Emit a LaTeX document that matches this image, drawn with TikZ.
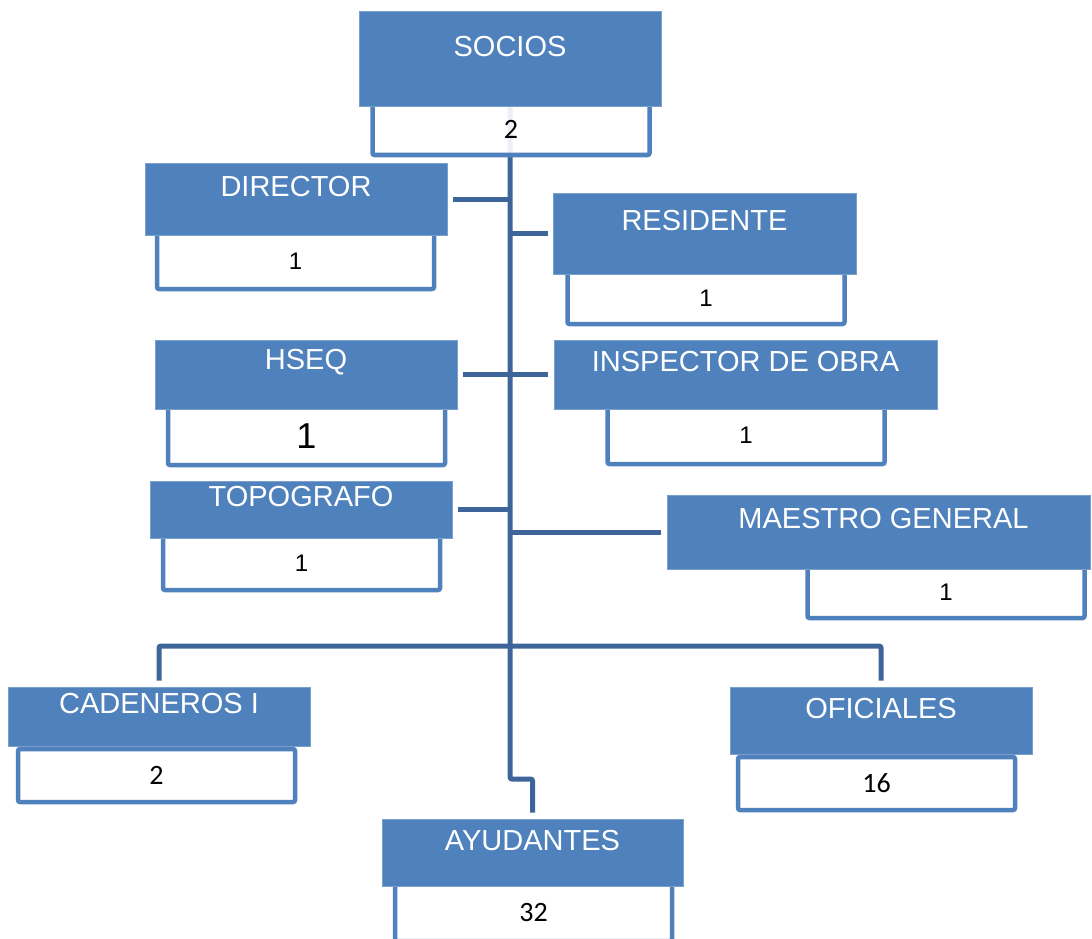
\documentclass[tikz,border=0pt]{standalone}
\usepackage{fontspec}
\setmainfont{Liberation Sans}
\newfontfamily\calib{Carlito}
\usetikzlibrary{backgrounds}
\definecolor{boxblue}{HTML}{4F81BD}
\definecolor{lineblue}{HTML}{3E6599}
\tikzset{
  headbox/.style={fill=boxblue,draw=boxblue!75!white,line width=0.8pt,inner sep=0pt},
  headtext/.style={text=white,font=\fontsize{29}{34}\selectfont,inner sep=0pt},
  numbox/.style={draw=boxblue,line width=4.5pt,fill=white,fill opacity=0.9,text opacity=1,
    rounded corners=2pt,minimum width=277pt,inner sep=0pt,font=\fontsize{24}{28}\selectfont},
  numcal/.style={font=\calib\fontsize{28}{32}\selectfont},
  conn/.style={draw=lineblue,line width=5pt},
}
\begin{document}
\begin{tikzpicture}[x=1pt,y=-1pt]
\useasboundingbox (0,0) rectangle (1092,939);
%white boxes with the number of persons
\node[numbox,numcal,minimum height=51pt] (socios-n) at (511,129.5) {2};
\node[numbox,minimum height=56pt] (director-n) at (295.5,261) {1};
\node[numbox,minimum height=52pt] (residente-n) at (706,298) {1};
\node[numbox,minimum height=58pt,font=\fontsize{36}{40}\selectfont] (hseq-n) at (306.5,436) {1};
\node[numbox,minimum height=57pt] (inspector-n) at (746,435.5) {1};
\node[numbox,minimum height=54pt] (topografo-n) at (301.5,563) {1};
\node[numbox,minimum height=51pt] (maestro-n) at (946,592.5) {1};
\node[numbox,numcal,minimum height=53pt] (cadeneros-n) at (156.5,775.5) {2};
\node[numbox,numcal,minimum height=53pt] (oficiales-n) at (876.5,783.5) {16};
\node[numbox,numcal,minimum height=57pt] (ayudantes-n) at (533.5,912.5) {32};
%blue boxes
\node[headbox,minimum width=302pt,minimum height=95pt] (socios) at (510,58.5) {};
\node[headbox,minimum width=302pt,minimum height=72pt] (director) at (296,199) {};
\node[headbox,minimum width=303pt,minimum height=81pt] (residente) at (704.5,233.5) {};
\node[headbox,minimum width=302pt,minimum height=69pt] (hseq) at (306,374.5) {};
\node[headbox,minimum width=383pt,minimum height=69pt] (inspector) at (745.5,374.5) {};
\node[headbox,minimum width=302pt,minimum height=57pt] (topografo) at (301,509.5) {};
\node[headbox,minimum width=423pt,minimum height=74pt] (maestro) at (878.5,532) {};
\node[headbox,minimum width=302pt,minimum height=59pt] (cadeneros) at (159,716.5) {};
\node[headbox,minimum width=302pt,minimum height=67pt] (oficiales) at (881,720.5) {};
\node[headbox,minimum width=301pt,minimum height=67pt] (ayudantes) at (532.5,852.5) {};
%titles
\node[headtext] (socios-t) at (510,47) {SOCIOS};
\node[headtext] (director-t) at (296,187) {DIRECTOR};
\node[headtext] (residente-t) at (704.5,221) {RESIDENTE};
\node[headtext] (hseq-t) at (306,362) {HSEQ};
\node[headtext] (inspector-t) at (745.5,362) {INSPECTOR DE OBRA};
\node[headtext] (topografo-t) at (301,497) {TOPOGRAFO};
\node[headtext] (maestro-t) at (883.5,519) {MAESTRO GENERAL};
\node[headtext] (cadeneros-t) at (159,704) {CADENEROS I};
\node[headtext] (oficiales-t) at (881,709) {OFICIALES};
\node[headtext] (ayudantes-t) at (532.5,841) {AYUDANTES};
%connectors
\coordinate (bend) at (510,779);
\coordinate (bar) at (510,646);
\begin{pgfonlayer}{background}
\draw[conn,rounded corners=2pt,shorten >=6pt] (socios.south) -- (bend) -| (ayudantes.north);
\draw[conn,shorten <=6pt] (director.east) -- (director.east -| bend);
\draw[conn,shorten <=5pt] (residente.west) -- (residente.west -| bend);
\draw[conn,shorten <=6pt] (hseq.east) -- (hseq.east -| bend);
\draw[conn,shorten <=6pt] (inspector.west) -- (inspector.west -| bend);
\draw[conn,shorten <=6pt] (topografo.east) -- (topografo.east -| bend);
\draw[conn,shorten <=6pt] (maestro.west) -- (maestro.west -| bend);
\draw[conn,rounded corners=2pt,shorten <=6pt,shorten >=6pt] (cadeneros.north) |- (bar) -| (oficiales.north);
\end{pgfonlayer}
\end{tikzpicture}
\end{document}
